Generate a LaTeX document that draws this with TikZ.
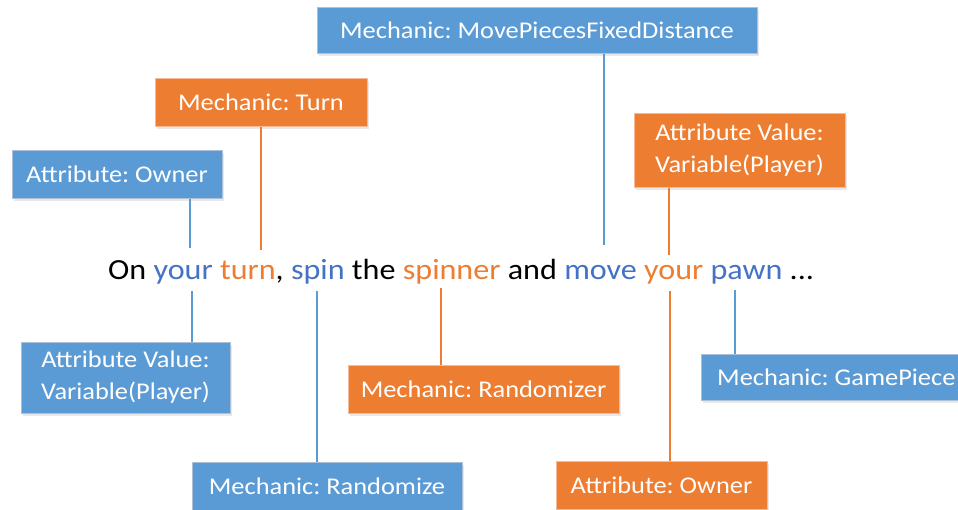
\documentclass[tikz,border=0pt]{standalone}
\usepackage{fontspec}
\setmainfont{Carlito}[FakeStretch=1.1]
\frenchspacing
\usetikzlibrary{shadows}
\definecolor{boxblue}{HTML}{5B9BD5}
\definecolor{boxorange}{HTML}{ED7D31}
\definecolor{edgeblue}{RGB}{172,192,216}
\definecolor{edgeorange}{RGB}{246,186,150}
\definecolor{wordblue}{HTML}{4472C4}
\definecolor{wordorange}{HTML}{ED7D31}
\tikzset{
  tagbox/.style={rectangle, inner sep=0pt, text=white, align=center,
    font=\fontsize{24}{32}\selectfont, line width=1pt,
    drop shadow={opacity=0.18, shadow xshift=1.5pt, shadow yshift=-3pt}},
  bluebox/.style={tagbox, fill=boxblue, draw=edgeblue},
  orangebox/.style={tagbox, fill=boxorange, draw=edgeorange},
  tagtext/.style={inner sep=0pt, text=white, font=\fontsize{24}{32}\selectfont},
  bluelink/.style={draw=boxblue, line width=2pt},
  orangelink/.style={draw=boxorange, line width=2pt},
}
\begin{document}
\begin{tikzpicture}[x=1pt, y=-1pt]
\path[use as bounding box, clip] (0,0) rectangle (958,509);

% the annotated sentence
\node[anchor=base west, inner sep=0pt, font=\fontsize{29.2}{34}\selectfont] (sentence) at (108,279.5)
  {On \textcolor{wordblue}{your} \textcolor{wordorange}{turn}, \textcolor{wordblue}{spin} the
   \textcolor{wordorange}{spinner} and \textcolor{wordblue}{move} \textcolor{wordorange}{your}
   \textcolor{wordblue}{pawn} ...};

% labels above the sentence
\node[bluebox, minimum width=440pt, minimum height=46pt] (move) at (537,30) {Mechanic: MovePiecesFixedDistance};
\node[orangebox, minimum width=212pt, minimum height=48pt] (turn) at (261,102) {Mechanic: Turn};
\node[bluebox, minimum width=210pt, minimum height=48pt] (ownerT) at (117,174) {Attribute: Owner};
\node[orangebox, minimum width=211pt, minimum height=74pt] (valT) at (739.5,150) {Attribute Value:\\Variable(Player)};

% labels below the sentence
\node[bluebox, minimum width=209pt, minimum height=71pt] (valB) at (125.5,377.5) {Attribute Value:\\Variable(Player)};
\node[orangebox, minimum width=271pt, minimum height=48pt] (rndzr) at (483.5,389) {Mechanic: Randomizer};
\node[bluebox, minimum width=270pt, minimum height=46pt] (piece) at (836,377) {};
\node[tagtext, anchor=west] (piecetext) at (717,377) {Mechanic: GamePiece};
\node[bluebox, minimum width=270pt, minimum height=48pt] (rnd) at (327,486) {Mechanic: Randomize};
\node[orangebox, minimum width=211pt, minimum height=48pt] (ownerB) at (661.5,485) {Attribute: Owner};

% word anchor points
\coordinate (your1T) at (190,248);
\coordinate (turnT) at (261,250);
\coordinate (moveT) at (604,245);
\coordinate (your2T) at (669,255);
\coordinate (your1B) at (192,291);
\coordinate (spinB) at (317,291);
\coordinate (spinnerB) at (441,288);
\coordinate (your2B) at (670,291);
\coordinate (pawnB) at (735,290);

% connectors
\draw[bluelink] (ownerT.south -| your1T) -- (your1T);
\draw[orangelink] (turn.south -| turnT) -- (turnT);
\draw[bluelink] (move.south -| moveT) -- (moveT);
\draw[orangelink] (valT.south -| your2T) -- (your2T);
\draw[bluelink] (valB.north -| your1B) -- (your1B);
\draw[bluelink] (rnd.north -| spinB) -- (spinB);
\draw[orangelink] (rndzr.north -| spinnerB) -- (spinnerB);
\draw[orangelink] (ownerB.north -| your2B) -- (your2B);
\draw[bluelink] (piece.north -| pawnB) -- (pawnB);
\end{tikzpicture}
\end{document}
